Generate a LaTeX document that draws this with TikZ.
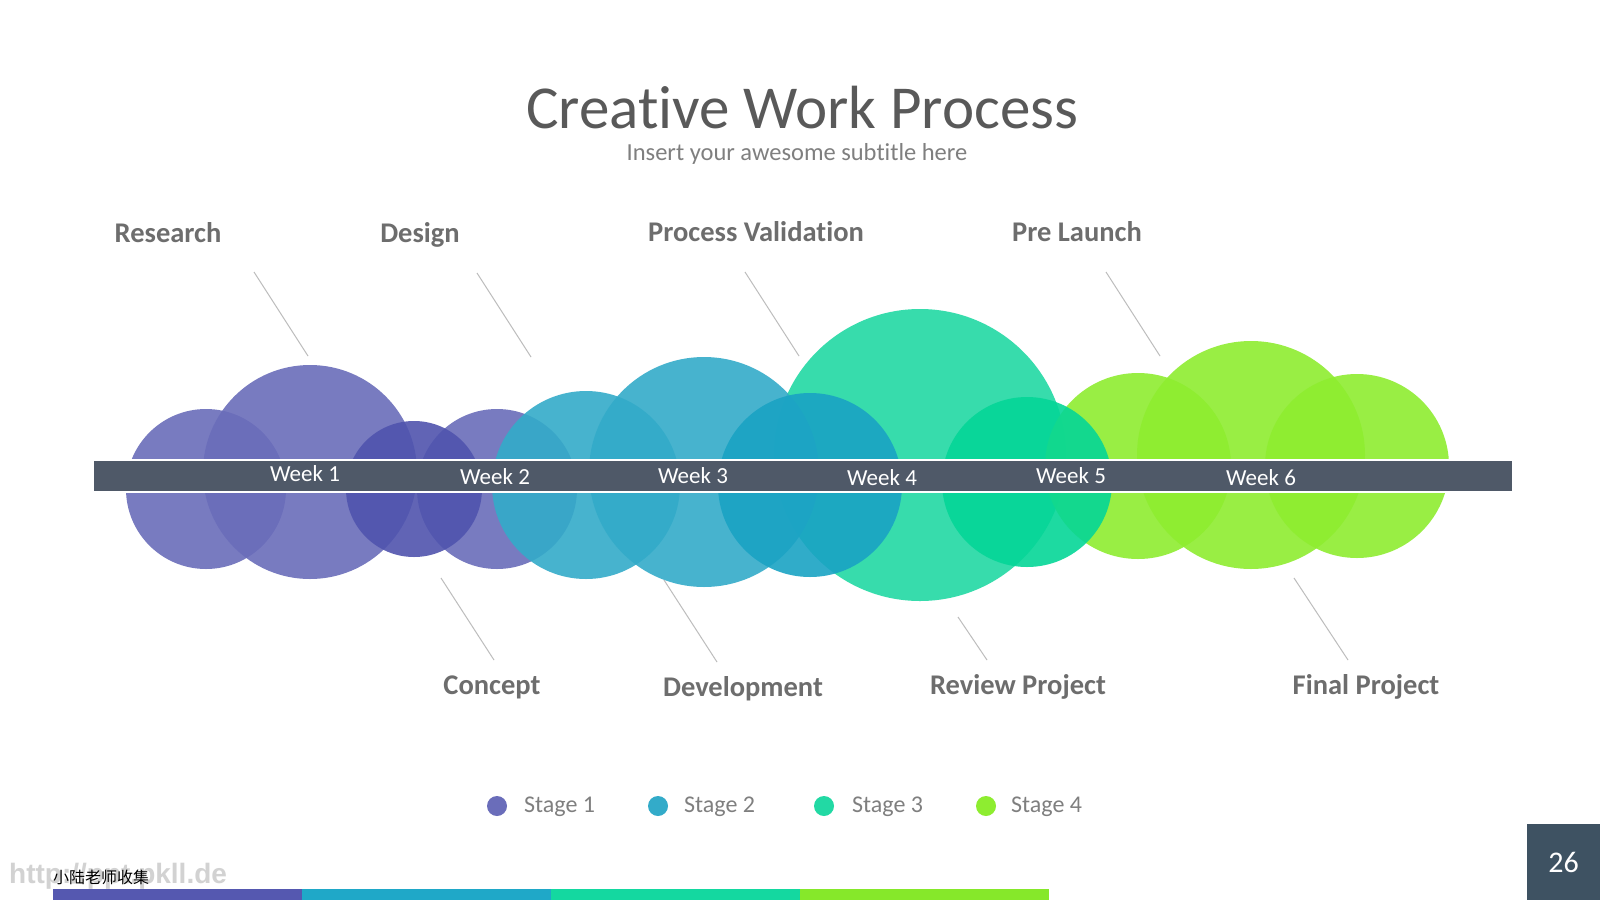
\documentclass[tikz,border=0pt]{standalone}
\usepackage{fontspec}
\setmainfont{Carlito}[Ligatures={NoCommon,NoRare}]
\newfontfamily\cjk{Noto Sans CJK SC}
\newfontfamily\wmfont{Liberation Sans}
\definecolor{pA}{HTML}{6A6DBA}
\definecolor{pB}{HTML}{5054AE}
\definecolor{tA}{HTML}{33ABC9}
\definecolor{tB}{HTML}{1AA3C4}
\definecolor{gA}{HTML}{22D9A4}
\definecolor{gB}{HTML}{05D697}
\definecolor{lA}{HTML}{8EED30}
\definecolor{barcol}{HTML}{4F5968}
\definecolor{lblgray}{HTML}{6D6D6D}
\definecolor{titlegray}{HTML}{595959}
\definecolor{subgray}{HTML}{7F7F7F}
\definecolor{linegray}{HTML}{BDBDBD}
\definecolor{pagebg}{HTML}{3E5262}
\definecolor{stripP}{HTML}{5558B0}
\definecolor{stripT}{HTML}{1FA8C8}
\definecolor{stripG}{HTML}{14D8A0}
\definecolor{stripL}{HTML}{86E82A}
\definecolor{wmgray}{HTML}{D2D2D2}
\begin{document}
\begin{tikzpicture}[x=1pt,y=-1pt,
  bubble/.style={circle, inner sep=0pt, draw=none, fill opacity=0.9},
  weeklbl/.style={text=white, inner sep=0pt, font=\fontsize{23}{23}\selectfont},
  stagelbl/.style={text=lblgray, inner sep=0pt, font=\bfseries\fontsize{28.5}{28.5}\selectfont},
  leader/.style={draw=linegray, line width=1pt},
  legdot/.style={circle, inner sep=0pt, minimum size=20pt, draw=none},
  legtxt/.style={anchor=west, inner sep=0pt, text=subgray, font=\fontsize{24}{24}\selectfont},
  strip/.style={inner sep=0pt, minimum height=11pt, minimum width=249pt, anchor=south west, draw=none}
]
\useasboundingbox (0,0) rectangle (1600,900);
\fill[white] (0,0) rectangle (1600,900);

% title
\node[inner sep=0pt, text=titlegray, font=\fontsize{61}{61}\selectfont] (title) at (802,108) {Creative Work Process};
\node[inner sep=0pt, text=subgray, font=\fontsize{24.5}{25}\selectfont] (subtitle) at (797,154) {Insert your awesome subtitle here};

% bubbles
\node[bubble, fill=pA, minimum size=160pt] (c1) at (206,489) {};
\node[bubble, fill=pA, minimum size=214pt] (c2) at (310,472) {};
\node[bubble, fill=pA, minimum size=160pt] (c4) at (497,489) {};
\node[bubble, fill=pB, minimum size=136pt] (c3) at (414,489) {};
\node[bubble, fill=gA, minimum size=292pt] (c8) at (920,455) {};
\node[bubble, fill=tA, minimum size=188pt] (c5) at (586,485) {};
\node[bubble, fill=tA, minimum size=230pt] (c6) at (704,472) {};
\node[bubble, fill=tB, minimum size=184pt] (c7) at (810,485) {};
\node[bubble, fill=lA, minimum size=186pt] (c10) at (1138,466) {};
\node[bubble, fill=lA, minimum size=228pt] (c11) at (1251,455) {};
\node[bubble, fill=lA, minimum size=184pt] (c12) at (1357,466) {};
\node[bubble, fill=gB, minimum size=170pt] (c9) at (1027,482) {};

% bar
\node[fill=barcol, draw=white, line width=1.5pt, inner sep=0pt, minimum width=1420pt, minimum height=32pt] (bar) at (803,476) {};
\node[weeklbl] (w1) at (305,474) {Week 1};
\node[weeklbl] (w2) at (495,477) {Week 2};
\node[weeklbl] (w3) at (693,476) {Week 3};
\node[weeklbl] (w4) at (882,478) {Week 4};
\node[weeklbl] (w5) at (1071,476) {Week 5};
\node[weeklbl] (w6) at (1261,478) {Week 6};

% stage labels
\node[stagelbl] (research) at (168,233) {Research};
\node[stagelbl] (design) at (420,235) {Design};
\node[stagelbl] (validation) at (756,232) {Process Validation};
\node[stagelbl] (prelaunch) at (1077,232) {Pre Launch};
\node[stagelbl] (concept) at (492,687) {Concept};
\node[stagelbl] (development) at (743,689) {Development};
\node[stagelbl] (review) at (1018,687) {Review Project};
\node[stagelbl] (final) at (1366,687) {Final Project};

% leader lines
\coordinate (a1) at (254,272); \coordinate (b1) at (308,356);
\coordinate (a2) at (477,273); \coordinate (b2) at (531,357);
\coordinate (a3) at (745,272); \coordinate (b3) at (799,356);
\coordinate (a4) at (1106,272); \coordinate (b4) at (1160,356);
\coordinate (a5) at (441,578); \coordinate (b5) at (494,660);
\coordinate (a6) at (664,580); \coordinate (b6) at (717,662);
\coordinate (a7) at (958,617); \coordinate (b7) at (987,660);
\coordinate (a8) at (1294,578); \coordinate (b8) at (1348,660);
\foreach \i in {1,...,8} { \draw[leader] (a\i) -- (b\i); }

% legend
\node[legdot, fill=pA] (d1) at (497,806) {};
\node[legtxt] (s1) at (524,807) {Stage 1};
\node[legdot, fill=tA] (d2) at (658,806) {};
\node[legtxt] (s2) at (684,807) {Stage 2};
\node[legdot, fill=gA] (d3) at (824,806) {};
\node[legtxt] (s3) at (852,807) {Stage 3};
\node[legdot, fill=lA] (d4) at (986,806) {};
\node[legtxt] (s4) at (1011,807) {Stage 4};

% bottom strips
\node[strip, fill=stripP] (st1) at (53,900) {};
\node[strip, fill=stripT] (st2) at (302,900) {};
\node[strip, fill=stripG] (st3) at (551,900) {};
\node[strip, fill=stripL] (st4) at (800,900) {};

% watermark
\node[anchor=west, inner sep=0pt, text=wmgray, font=\wmfont\bfseries\fontsize{28}{28}\selectfont] (wm) at (9,876) {http://ppt.pkll.de};
\node[anchor=west, inner sep=0pt, text=black, font=\cjk\fontsize{16}{16}\selectfont] (wmcn) at (53,877) {小陆老师收集};

% page number
\node[fill=pagebg, inner sep=0pt, minimum width=73pt, minimum height=76pt, text=white, font=\fontsize{30}{30}\selectfont] (page) at (1563.5,862) {26};
\end{tikzpicture}
\end{document}
